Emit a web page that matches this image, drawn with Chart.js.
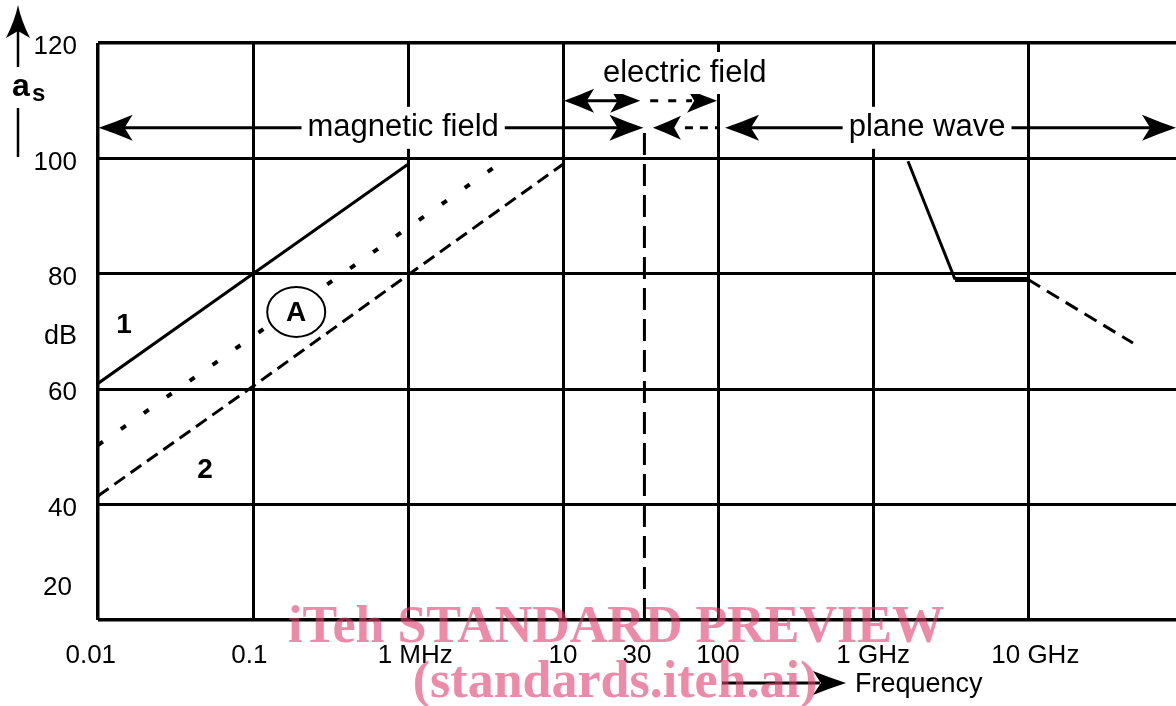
<!DOCTYPE html>
<html>
<head>
<meta charset="utf-8">
<script src="https://cdn.jsdelivr.net/npm/chart.js@4.4.1/dist/chart.umd.min.js"></script>
<style>
	body { margin: 0; background: #fff; }
	canvas { display: block; }
</style>
</head>
<body>
<canvas id="canvas" width="1176" height="706"></canvas>
<script>
// frequency in MHz, attenuation a_s in dB
const xTickValues = [0.01, 0.1, 1, 10, 30, 100, 1000, 10000];
const xTickLabels = ["0.01  ", "0.1 ", "  1 MHz", "10", "30", "100", "1 GHz", "  10 GHz"];
const yTickValues = [20, 40, 60, 80, 100, 120];

const curve1Freq = [0.01, 0.1, 1];
const curve1Db = [61, 80, 99];

const curveAFreq = [0.01, 3.75];
const curveADb = [50.3, 98.8];

const curve2Freq = [0.01, 0.1, 1, 10];
const curve2Db = [41.5, 60.5, 79.8, 99];

const planeFreq = [1680, 3380, 10000];
const planeDb = [99.5, 79, 79];

const planeDashFreq = [10000, 47500];
const planeDashDb = [79, 68];

const boundaryFreq = [33.5, 33.5];
const boundaryDb = [20, 105.3];

const xMin = 0.01;
const xMax = 90000;

const toPoints = (xs, ys) => xs.map((x, i) => ({ x: x, y: ys[i] }));

function arrowHead(ctx, x, y, dir, len, half) {
	ctx.beginPath();
	ctx.moveTo(x, y);
	ctx.quadraticCurveTo(x - dir * len * 0.5, y - half * 0.45, x - dir * len, y - half);
	ctx.lineTo(x - dir * len * 0.76, y);
	ctx.lineTo(x - dir * len, y + half);
	ctx.quadraticCurveTo(x - dir * len * 0.5, y + half * 0.45, x, y);
	ctx.closePath();
	ctx.fill();
}

function line(ctx, x1, y1, x2, y2, dash) {
	ctx.save();
	ctx.setLineDash(dash || []);
	ctx.beginPath();
	ctx.moveTo(x1, y1);
	ctx.lineTo(x2, y2);
	ctx.stroke();
	ctx.restore();
}

function boxedText(ctx, text, x, y) {
	const w = ctx.measureText(text).width;
	ctx.fillStyle = "#fff";
	ctx.fillRect(x - w / 2 - 6, y - 21, w + 12, 42);
	ctx.fillStyle = "#000";
	ctx.fillText(text, x, y);
}

const annotations = {
	id: "annotations",
	afterDatasetsDraw(chart) {
		const ctx = chart.ctx;
		const xs = chart.scales.x;
		const ys = chart.scales.y;
		const X = (f) => xs.getPixelForValue(f);
		const Y = (d) => ys.getPixelForValue(d);

		ctx.save();
		ctx.strokeStyle = "#000";
		ctx.fillStyle = "#000";
		ctx.lineWidth = 3;
		ctx.font = "31px 'Liberation Sans', Arial, sans-serif";
		ctx.textAlign = "center";
		ctx.textBaseline = "middle";

		const yLow = Y(105.3);
		const yHigh = Y(110);

		// magnetic field
		line(ctx, X(0.0101) + 25, yLow, X(33.5) - 25, yLow);
		arrowHead(ctx, X(0.0101), yLow, -1, 34, 13);
		arrowHead(ctx, X(33.5) - 1, yLow, 1, 34, 13);
		boxedText(ctx, "magnetic field", X(0.93), yLow);

		// plane wave
		line(ctx, X(111) + 25, yLow, X(xMax) - 25, yLow);
		arrowHead(ctx, X(111), yLow, -1, 34, 13);
		arrowHead(ctx, X(xMax), yLow, 1, 34, 13);
		boxedText(ctx, "plane wave", X(2230), yLow);

		// electric field
		line(ctx, X(10) + 20, yHigh, X(31.5) - 20, yHigh);
		arrowHead(ctx, X(10) + 1, yHigh, -1, 30, 12);
		arrowHead(ctx, X(31.5), yHigh, 1, 30, 12);
		line(ctx, X(36.5), yHigh, X(100) - 26, yHigh, [8, 10]);
		arrowHead(ctx, X(100) - 1, yHigh, 1, 30, 12);
		arrowHead(ctx, X(38), yLow, -1, 28, 12);
		line(ctx, X(38) + 32, yLow, X(100), yLow, [8, 7]);
		boxedText(ctx, "electric field", X(61), Y(114.8));

		// curve labels
		ctx.font = "bold 28px 'Liberation Sans', Arial, sans-serif";
		ctx.fillText("1", X(0.0147), Y(71.1));
		ctx.fillText("2", X(0.049), Y(46));
		ctx.lineWidth = 2;
		ctx.beginPath();
		ctx.ellipse(X(0.19), Y(73.4), 29, 25, 0, 0, Math.PI * 2);
		ctx.fillStyle = "#fff";
		ctx.fill();
		ctx.stroke();
		ctx.fillStyle = "#000";
		ctx.fillText("A", X(0.19), Y(73.4) + 1);
		ctx.restore();
	},
	afterDraw(chart) {
		const ctx = chart.ctx;
		ctx.save();
		ctx.strokeStyle = "#000";
		ctx.fillStyle = "#000";
		ctx.lineWidth = 2.5;

		// y axis title a_s with arrow
		line(ctx, 18, 67, 18, 30);
		ctx.beginPath();
		ctx.moveTo(18, 5);
		ctx.quadraticCurveTo(21, 20, 30, 38);
		ctx.lineTo(18, 31);
		ctx.lineTo(6, 38);
		ctx.quadraticCurveTo(15, 20, 18, 5);
		ctx.fill();
		line(ctx, 18, 108, 18, 157);
		ctx.textBaseline = "alphabetic";
		ctx.textAlign = "left";
		ctx.font = "bold 32px 'Liberation Sans', Arial, sans-serif";
		ctx.fillText("a", 12, 96);
		ctx.font = "bold 24px 'Liberation Sans', Arial, sans-serif";
		ctx.fillText("s", 32, 101);

		ctx.textBaseline = "middle";
		ctx.font = "27px 'Liberation Sans', Arial, sans-serif";
		ctx.fillText("dB", 44, 337);
		ctx.textAlign = "right";
		ctx.font = "26px 'Liberation Sans', Arial, sans-serif";
		ctx.fillText("20", 72, 588);

		// frequency arrow
		ctx.lineWidth = 3;
		line(ctx, 722, 683, 820, 683);
		arrowHead(ctx, 846, 683, 1, 33, 12);
		ctx.textAlign = "left";
		ctx.font = "27px 'Liberation Sans', Arial, sans-serif";
		ctx.fillText("Frequency", 855, 685);

		// watermark
		ctx.textAlign = "center";
		ctx.textBaseline = "alphabetic";
		ctx.fillStyle = "rgba(225, 60, 110, 0.6)";
		ctx.font = "bold 52px 'Liberation Serif', 'Times New Roman', serif";
		ctx.fillText("iTeh STANDARD PREVIEW", 616, 642);
		ctx.fillText("(standards.iteh.ai)", 615, 697);
		ctx.restore();
	},
	beforeDraw(chart) {
		const ctx = chart.ctx;
		ctx.save();
		ctx.fillStyle = "#fff";
		ctx.fillRect(0, 0, chart.width, chart.height);
		ctx.restore();
	},
};

window.onload = () => {
	const canvas = document.getElementById("canvas").getContext("2d");

	const lineSet = (data, dash, width) => ({
		data: data,
		borderColor: "#000",
		borderWidth: width || 3,
		borderDash: dash || [],
		pointRadius: 0,
		fill: false,
		tension: 0,
	});

	const config = {
		type: "line",
		data: {
			datasets: [
				lineSet(toPoints(curve1Freq, curve1Db)),
				lineSet(toPoints(curveAFreq, curveADb), [6, 22], 4),
				lineSet(toPoints(curve2Freq, curve2Db), [13, 7]),
				Object.assign(lineSet(toPoints(planeFreq, planeDb)), {
					segment: { borderWidth: (c) => (c.p0DataIndex === 1 ? 5 : 3) },
				}),
				lineSet(toPoints(planeDashFreq, planeDashDb), [14, 8]),
				lineSet(toPoints(boundaryFreq, boundaryDb), [22, 9]),
			],
		},
		options: {
			responsive: false,
			animation: false,
			devicePixelRatio: 1,
			layout: { padding: { top: 43, left: 0, right: 0, bottom: 0 } },
			plugins: {
				legend: { display: false },
				tooltip: { enabled: false },
			},
			scales: {
				x: {
					type: "logarithmic",
					min: xMin,
					max: xMax,
					afterBuildTicks: (scale) => {
						scale.ticks = xTickValues.map((v) => ({ value: v }));
					},
					afterFit: (scale) => {
						scale.height = 86;
					},
					border: { display: false },
					grid: {
						drawTicks: false,
						color: (c) => (c.tick && c.tick.value === 30 ? "rgba(0,0,0,0)" : "#000"),
						lineWidth: (c) => (c.tick && c.tick.value === 0.01 ? 3.5 : 3),
					},
					ticks: {
						autoSkip: false,
						maxRotation: 0,
						padding: 20,
						color: "#000",
						font: { family: "'Liberation Sans', Arial, sans-serif", size: 26 },
						callback: (v) => {
							const i = xTickValues.indexOf(v);
							return i >= 0 ? xTickLabels[i] : "";
						},
					},
				},
				y: {
					min: 20,
					max: 120,
					afterBuildTicks: (scale) => {
						scale.ticks = yTickValues.map((v) => ({ value: v }));
					},
					afterFit: (scale) => {
						scale.width = 98;
					},
					border: { display: false },
					grid: {
						drawTicks: false,
						color: "#000",
						lineWidth: (c) => (c.tick && (c.tick.value === 20 || c.tick.value === 120) ? 3.5 : 3),
					},
					ticks: {
						padding: 21,
						labelOffset: 4,
						color: "#000",
						font: { family: "'Liberation Sans', Arial, sans-serif", size: 26 },
						callback: (v) => (v === 20 ? "" : String(v)),
					},
				},
			},
		},
		plugins: [annotations],
	};

	const chart = new Chart(canvas, config);
};
</script>
</body>
</html>
